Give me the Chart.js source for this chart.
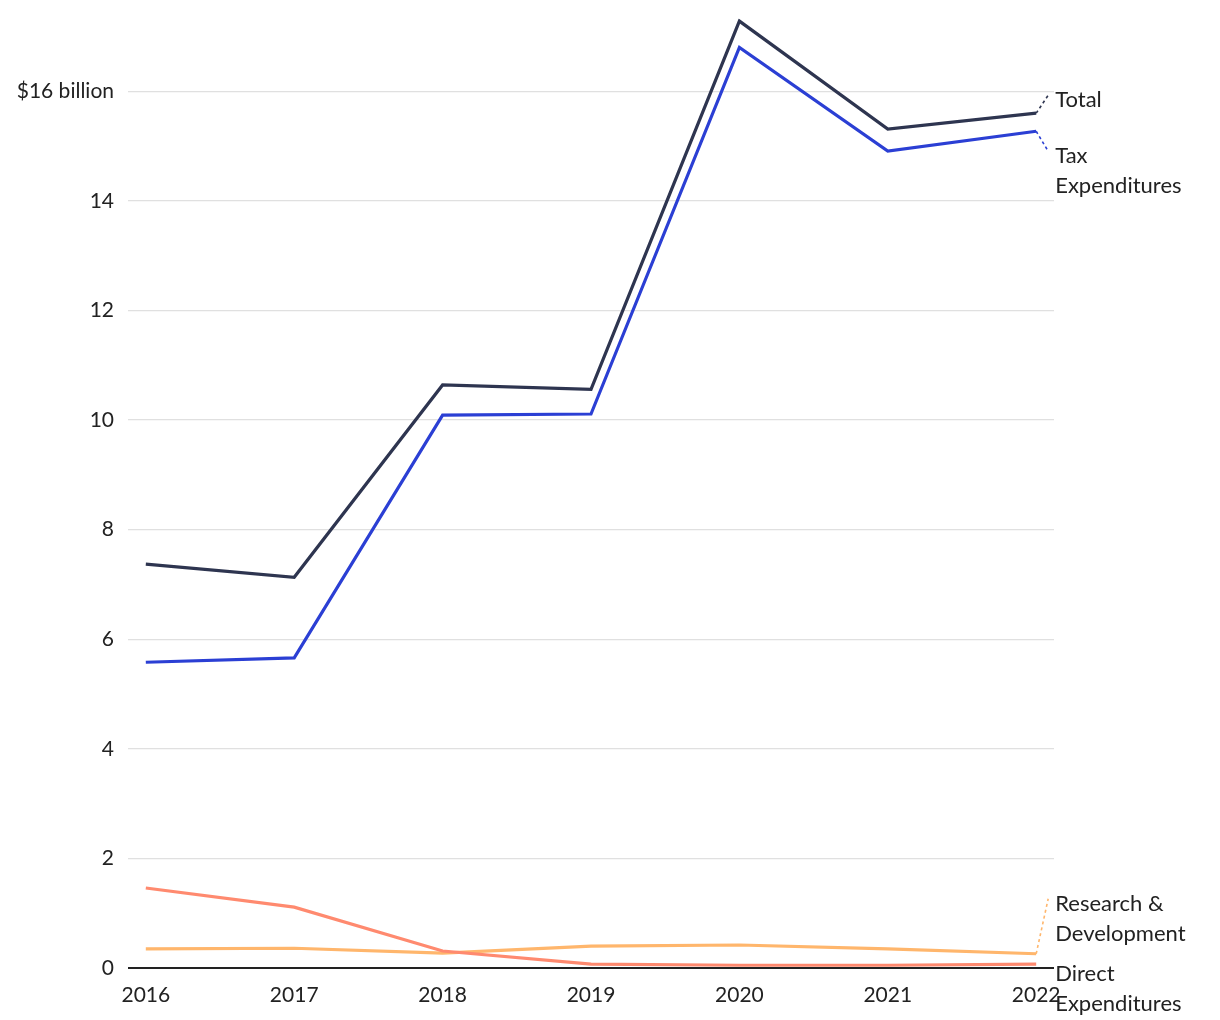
<!DOCTYPE html>
<html>
<head>
<meta charset="utf-8">
<script src="https://cdn.jsdelivr.net/npm/chart.js@4.4.1/dist/chart.umd.min.js"></script>
<style>
  html, body { margin: 0; padding: 0; background: #fff; }
  #wrap { width: 1220px; height: 1020px; }
</style>
</head>
<body>
<div id="wrap"><canvas id="chart" width="1220" height="1020"></canvas></div>
<script>
const years = [2016, 2017, 2018, 2019, 2020, 2021, 2022];
const yTicks = [0, 2, 4, 6, 8, 10, 12, 14, 16];

// $ billion
const total = [7.37, 7.13, 10.64, 10.56, 17.28, 15.31, 15.60];
const taxExp = [5.58, 5.66, 10.09, 10.11, 16.80, 14.91, 15.27];
const directExp = [1.46, 1.11, 0.31, 0.07, 0.05, 0.05, 0.07];
const researchDev = [0.35, 0.36, 0.27, 0.40, 0.42, 0.35, 0.26];

const seriesNames = ['Total', 'Tax Expenditures', 'Direct Expenditures', 'Research & Development'];
const endLabels = [['Total'], ['Tax', 'Expenditures'], ['Direct', 'Expenditures'], ['Research &', 'Development']];
// vertical shift of each end label from its line end (px)
const labelShift = [-13, 25, 10, -50];

const colors = ['#2e3550', '#2b3fd4', '#ff8a6f', '#ffb66c'];
const FONT = 'Lato, "Source Sans Pro", sans-serif';

const toPoints = arr => arr.map((v, i) => ({ x: years[i], y: v }));

const endLabelPlugin = {
  id: 'endLabels',
  afterDatasetsDraw(chart) {
    const c = chart.ctx;
    const xs = chart.scales.x, ys = chart.scales.y;
    chart.data.datasets.forEach((ds, i) => {
      const last = ds.data[ds.data.length - 1];
      const px = xs.getPixelForValue(last.x);
      const py = ys.getPixelForValue(last.y);
      const ly = py + labelShift[i];
      c.save();
      if (Math.abs(ly - py) > 12) {
        c.strokeStyle = colors[i];
        c.lineWidth = 1.6;
        c.setLineDash([3, 3]);
        c.beginPath();
        c.moveTo(px, py);
        c.lineTo(px + 12, ly - 5);
        c.stroke();
        c.setLineDash([]);
      }
      c.fillStyle = '#222';
      c.font = '22px ' + FONT;
      c.textAlign = 'left';
      c.textBaseline = 'middle';
      endLabels[i].forEach((t, k) => c.fillText(t, px + 19, ly + k * 30));
      c.restore();
    });
  }
};

const ctx = document.getElementById('chart');

new Chart(ctx, {
  type: 'line',
  data: {
    datasets: [
      { label: seriesNames[0], data: toPoints(total) },
      { label: seriesNames[1], data: toPoints(taxExp) },
      { label: seriesNames[2], data: toPoints(directExp) },
      { label: seriesNames[3], data: toPoints(researchDev) }
    ].map((d, i) => Object.assign(d, {
      borderColor: colors[i],
      backgroundColor: colors[i],
      borderWidth: 3.2,
      pointRadius: 0,
      tension: 0,
      clip: 8
    }))
  },
  options: {
    responsive: false,
    animation: false,
    layout: { padding: { top: 0, right: 166, bottom: 0, left: 0 } },
    plugins: {
      legend: { display: false },
      tooltip: { enabled: false }
    },
    scales: {
      x: {
        type: 'linear',
        min: 2015.88,
        max: 2022.12,
        afterBuildTicks: s => { s.ticks = years.map(v => ({ value: v })); },
        afterFit: s => { s.height = 52; },
        grid: { display: false },
        border: { display: false },
        ticks: {
          color: '#222',
          font: { family: FONT, size: 21 },
          padding: 7,
          maxRotation: 0,
          callback: v => String(v)
        }
      },
      y: {
        min: 0,
        max: 17.18,
        afterBuildTicks: s => { s.ticks = yTicks.map(v => ({ value: v })); },
        afterFit: s => { s.width = 128; },
        border: { display: false },
        grid: {
          drawTicks: false,
          color: c => c.tick && c.tick.value === 0 ? '#222' : '#e0e0e0',
          lineWidth: c => c.tick && c.tick.value === 0 ? 2 : 1.3
        },
        ticks: {
          color: '#222',
          font: { family: FONT, size: 21 },
          padding: 14,
          callback: v => v === 16 ? '$16 billion' : String(v)
        }
      }
    }
  },
  plugins: [endLabelPlugin]
});
</script>
</body>
</html>
